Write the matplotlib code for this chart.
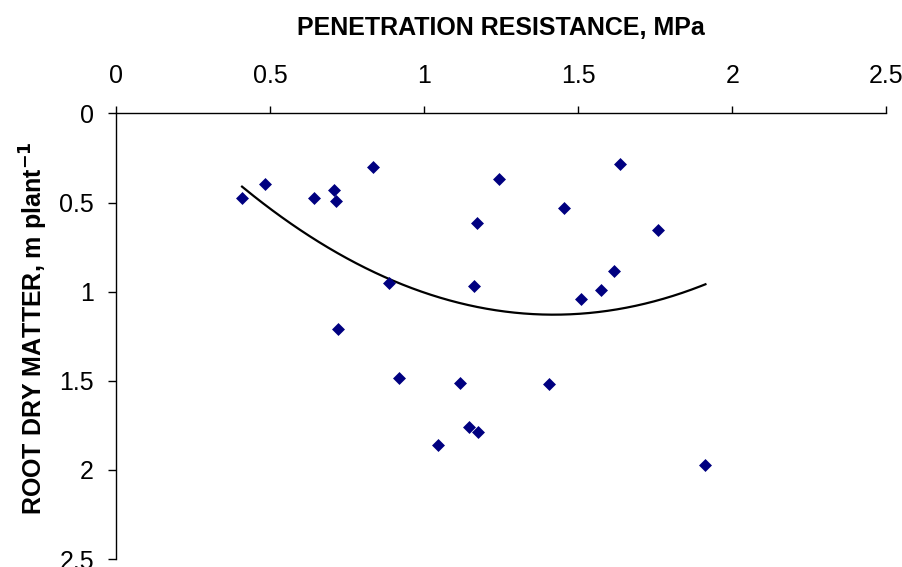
import numpy as np
import matplotlib.pyplot as plt

# penetration resistance (MPa) and root dry matter (m plant^-1)
resistance = [0.409, 0.484, 0.643, 0.708, 0.713, 0.835, 0.886, 0.719,
              0.918, 1.046, 1.116, 1.144, 1.174, 1.172, 1.161, 1.244,
              1.405, 1.455, 1.508, 1.573, 1.615, 1.636, 1.760, 1.913]
root_dm = [0.476, 0.396, 0.476, 0.430, 0.490, 0.299, 0.954, 1.209,
           1.482, 1.861, 1.510, 1.760, 1.788, 0.617, 0.969, 0.370,
           1.518, 0.529, 1.042, 0.990, 0.883, 0.284, 0.654, 1.975]

x_ticks = [0, 0.5, 1, 1.5, 2, 2.5]
y_ticks = [0, 0.5, 1, 1.5, 2, 2.5]

plt.rcParams['font.family'] = ['Liberation Sans', 'DejaVu Sans']

fig = plt.figure(figsize=(9.03, 5.67), dpi=100)
ax = fig.add_axes([0.1285, 0.014, 0.853, 0.786])

ax.scatter(resistance, root_dm, marker='D', s=6.6**2, color='#000080',
           linewidths=0, zorder=3)

# 2nd order polynomial trendline over the data range
coef = np.polyfit(resistance, root_dm, 2)
xs = np.linspace(min(resistance), max(resistance), 200)
ax.plot(xs, np.polyval(coef, xs), color='black', linewidth=1.6, zorder=2)

ax.set_xlim(0, 2.5)
ax.set_ylim(2.5, 0)
ax.set_xticks(x_ticks)
ax.set_xticklabels([f'{v:g}' for v in x_ticks])
ax.set_yticks(y_ticks)
ax.set_yticklabels([f'{v:g}' for v in y_ticks])

ax.xaxis.tick_top()
ax.xaxis.set_label_position('top')
for side in ['right', 'bottom']:
    ax.spines[side].set_visible(False)
for side in ['left', 'top']:
    ax.spines[side].set_linewidth(1.0)
    ax.spines[side].set_color('black')

ax.tick_params(axis='x', direction='out', length=4.7, width=1, pad=13.5, labelsize=18)
ax.tick_params(axis='y', direction='out', length=5.8, width=1, pad=10, labelsize=18)

ax.set_xlabel('PENETRATION RESISTANCE, MPa', fontsize=18, fontweight='bold',
              labelpad=21)
ax.set_ylabel(r'ROOT DRY MATTER, m plant$^{\mathbf{-1}}$', fontsize=18,
              fontweight='bold')
ax.yaxis.set_label_coords(-0.086, 0.518)

fig.savefig('out.png', dpi=100)
